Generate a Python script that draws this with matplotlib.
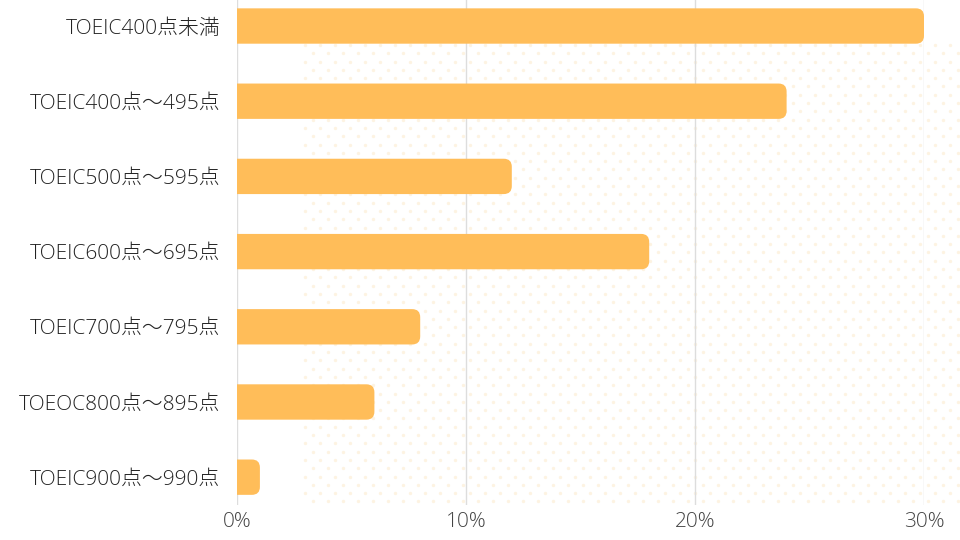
import numpy as np
import matplotlib.pyplot as plt
from matplotlib.patches import FancyBboxPatch

plt.rcParams['font.family'] = ['Open Sans', 'Noto Sans CJK JP', 'DejaVu Sans']

# data
categories = ["TOEIC400点未満", "TOEIC400点〜495点", "TOEIC500点〜595点",
              "TOEIC600点〜695点", "TOEIC700点〜795点", "TOEOC800点〜895点",
              "TOEIC900点〜990点"]
shares = [30, 24, 12, 18, 8, 6, 1]
x_ticks = [0, 10, 20, 30]
x_tick_labels = ["0%", "10%", "20%", "30%"]

bar_color = "#FFBD59"
bar_h = 0.47

fig = plt.figure(figsize=(9.6, 5.4), dpi=100)

# faint dotted background pattern
bg = fig.add_axes([0, 0, 1, 1], zorder=0)
bg.set_xlim(0, 960)
bg.set_ylim(540, 0)
bg.axis("off")
xs, ys = [], []
for i, yy in enumerate(np.arange(45, 506, 8.3)):
    off = 7.5 if i % 2 else 0
    for xx in np.arange(305 + off, 960, 15):
        xs.append(xx)
        ys.append(yy)
bg.scatter(xs, ys, s=6, color="#fdf3e2", linewidths=0)

ax = fig.add_axes([237 / 960, 35 / 540, 687 / 960, 505 / 540], zorder=1)
ax.patch.set_alpha(0)

y = np.arange(len(categories))
ax.set_xlim(0, 30)
ax.set_ylim(6.37, -0.346)

# rounded right ends; the left end starts off-axes and gets clipped
px_x = 687 / 30
px_y = 75.2
r = 8 / px_x
for yi, v in zip(y, shares):
    patch = FancyBboxPatch((-1, yi - bar_h / 2), v + 1, bar_h,
                           boxstyle=f"round,pad=0,rounding_size={r}",
                           mutation_aspect=px_x / px_y,
                           facecolor=bar_color, edgecolor="none", zorder=3)
    ax.add_patch(patch)

ax.set_yticks(y)
ax.set_yticklabels(categories, fontsize=15, color="#222222", fontweight="light")
ax.set_xticks(x_ticks)
ax.set_xticklabels(x_tick_labels, fontsize=15, color="#444444", fontweight="light")
ax.tick_params(length=0)
ax.tick_params(axis="y", pad=12)
ax.tick_params(axis="x", pad=5)
ax.grid(axis="x", color="#dddddd", linewidth=1, zorder=0)
for s in ax.spines.values():
    s.set_visible(False)

fig.savefig("out.png", dpi=100)
